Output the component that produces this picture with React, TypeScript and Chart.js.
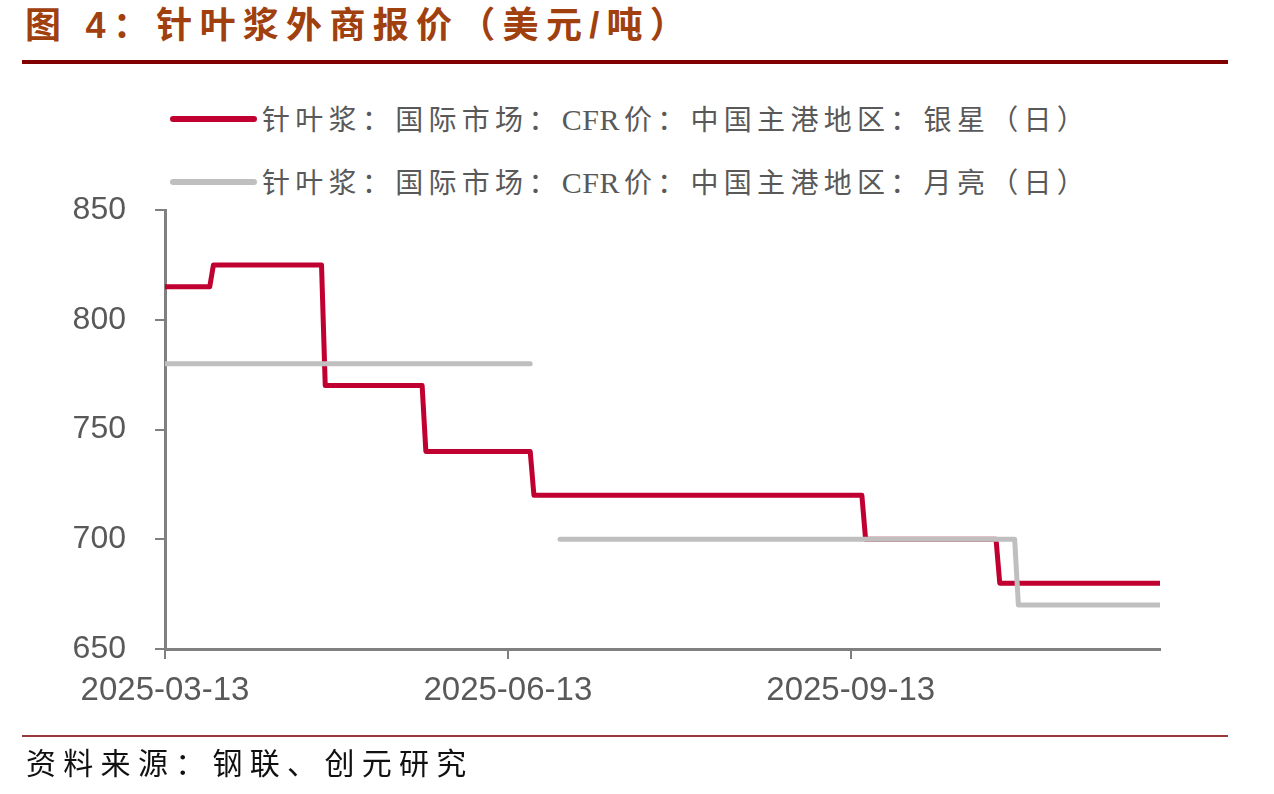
import React, { useEffect, useRef } from 'react';
import { Chart, registerables } from 'chart.js';

Chart.register(...registerables);

const startDate = '2025-03-13';
const endDate = '2025-12-05';
const xTickDates = ['2025-03-13', '2025-06-13', '2025-09-13'];
const yMin = 650;
const yMax = 850;
const yStep = 50;

const silverLabel = '针叶浆：国际市场：CFR价：中国主港地区：银星（日）';
const silverDates = ['2025-03-13', '2025-03-25', '2025-03-26', '2025-04-24', '2025-04-25', '2025-05-21', '2025-05-22', '2025-06-19', '2025-06-20', '2025-09-16', '2025-09-17', '2025-10-22', '2025-10-23', '2025-12-05'];
const silverValues = [815, 815, 825, 825, 770, 770, 740, 740, 720, 720, 700, 700, 680, 680];

const moonLabel = '针叶浆：国际市场：CFR价：中国主港地区：月亮（日）';
const moonDates = ['2025-03-13', '2025-06-19', '2025-06-20', '2025-06-27', '2025-10-27', '2025-10-28', '2025-12-05'];
const moonValues: (number | null)[] = [780, 780, null, 700, 700, 670, 670];

const titleText = '图 4：针叶浆外商报价（美元/吨）';
const sourceText = '资料来源：钢联、创元研究';

const RED = '#C00030';
const GRAY = '#BFBFBF';
const AXIS = '#808080';
const TICK_TEXT = '#595959';

const dayOf = (d: string) => (Date.parse(d + 'T00:00:00Z') - Date.parse(startDate + 'T00:00:00Z')) / 86400000;

function LegendLabel({ text }: { text: string }) {
  const parts = text.split(/([A-Za-z]+)/).filter((p) => p.length > 0);
  return (
    <>
      {parts.map((p, i) =>
        /^[A-Za-z]+$/.test(p) ? (
          <span key={i} style={{ letterSpacing: '0.5px', fontSize: 30, marginRight: 4 }}>
            {p}
          </span>
        ) : (
          <span key={i}>{p}</span>
        )
      )}
    </>
  );
}

export default function App() {
  const canvasRef = useRef<HTMLCanvasElement | null>(null);

  useEffect(() => {
    const canvas = canvasRef.current;
    if (!canvas) return;
    const chart = new Chart(canvas, {
      type: 'line',
      data: {
        datasets: [
          {
            label: moonLabel,
            data: moonDates.map((d, i) => ({ x: dayOf(d), y: moonValues[i] })) as any,
            borderColor: GRAY,
            backgroundColor: GRAY,
            borderWidth: 5,
            pointRadius: 0,
            tension: 0,
            spanGaps: false,
            borderCapStyle: 'round',
            borderJoinStyle: 'round',
            order: 0,
          },
          {
            label: silverLabel,
            data: silverDates.map((d, i) => ({ x: dayOf(d), y: silverValues[i] })) as any,
            borderColor: RED,
            backgroundColor: RED,
            borderWidth: 5,
            pointRadius: 0,
            tension: 0,
            borderCapStyle: 'round',
            borderJoinStyle: 'round',
            order: 1,
          },
        ],
      },
      options: {
        responsive: false,
        animation: false,
        layout: { padding: { top: 210, right: 114, left: 0, bottom: 0 } },
        plugins: { legend: { display: false }, tooltip: { enabled: false } },
        scales: {
          x: {
            type: 'linear',
            min: 0,
            max: dayOf(endDate),
            afterBuildTicks: (scale: any) => {
              scale.ticks = xTickDates.map((d) => ({ value: dayOf(d) }));
            },
            afterFit: (scale: any) => {
              scale.height = 145;
            },
            ticks: {
              autoSkip: false,
              maxRotation: 0,
              padding: 12,
              color: TICK_TEXT,
              font: { family: 'Liberation Sans', size: 33 },
              callback: (v: any) => {
                const idx = xTickDates.findIndex((d) => dayOf(d) === v);
                return idx >= 0 ? xTickDates[idx] : '';
              },
            },
            grid: { display: true, drawOnChartArea: false, drawTicks: true, tickLength: 10, color: AXIS, lineWidth: 2 },
            border: { display: true, color: AXIS, width: 3 },
          },
          y: {
            min: yMin,
            max: yMax,
            afterFit: (scale: any) => {
              scale.width = 165;
            },
            ticks: {
              stepSize: yStep,
              padding: 29,
              color: TICK_TEXT,
              font: { family: 'Liberation Sans', size: 32 },
            },
            grid: { display: true, drawOnChartArea: false, drawTicks: true, tickLength: 10, color: AXIS, lineWidth: 2 },
            border: { display: true, color: AXIS, width: 3 },
          },
        },
      },
    });
    return () => chart.destroy();
  }, []);

  const legendText: React.CSSProperties = {
    position: 'absolute',
    left: 262,
    fontFamily: '"Liberation Serif", "Noto Sans CJK SC", serif',
    fontSize: 28,
    letterSpacing: '5.3px',
    lineHeight: '34px',
    color: '#595959',
    whiteSpace: 'nowrap',
  };
  const legendLine = (color: string, top: number): React.CSSProperties => ({
    position: 'absolute',
    left: 170,
    top: top - 3,
    width: 87,
    height: 6,
    borderRadius: 3,
    background: color,
  });

  return (
    <div style={{ position: 'fixed', left: 0, top: 0, width: 1274, height: 794, background: '#fff', overflow: 'hidden' }}>
      <div
        style={{
          position: 'absolute',
          left: 25,
          top: 4,
          fontFamily: '"Liberation Sans", "Noto Sans CJK SC", sans-serif',
          fontWeight: 700,
          fontSize: 36,
          letterSpacing: '7.3px',
          lineHeight: '44px',
          color: '#A0400F',
          whiteSpace: 'nowrap',
        }}
      >
        {titleText}
      </div>
      <div style={{ position: 'absolute', left: 22, top: 60, width: 1206, height: 4, background: '#800000' }} />
      <div style={legendLine(RED, 119)} />
      <div style={{ ...legendText, top: 103 }}>
        <LegendLabel text={silverLabel} />
      </div>
      <div style={legendLine(GRAY, 182)} />
      <div style={{ ...legendText, top: 166 }}>
        <LegendLabel text={moonLabel} />
      </div>
      <canvas ref={canvasRef} width={1274} height={794} style={{ position: 'absolute', left: 0, top: 0, width: 1274, height: 794 }} />
      <div style={{ position: 'absolute', left: 22, top: 735, width: 1206, height: 1.5, background: '#9B3A3A' }} />
      <div
        style={{
          position: 'absolute',
          left: 26,
          top: 743,
          fontFamily: '"Noto Sans CJK SC", serif',
          fontSize: 30,
          letterSpacing: '7.3px',
          lineHeight: '36px',
          color: '#111',
          whiteSpace: 'nowrap',
        }}
      >
        {sourceText}
      </div>
    </div>
  );
}
